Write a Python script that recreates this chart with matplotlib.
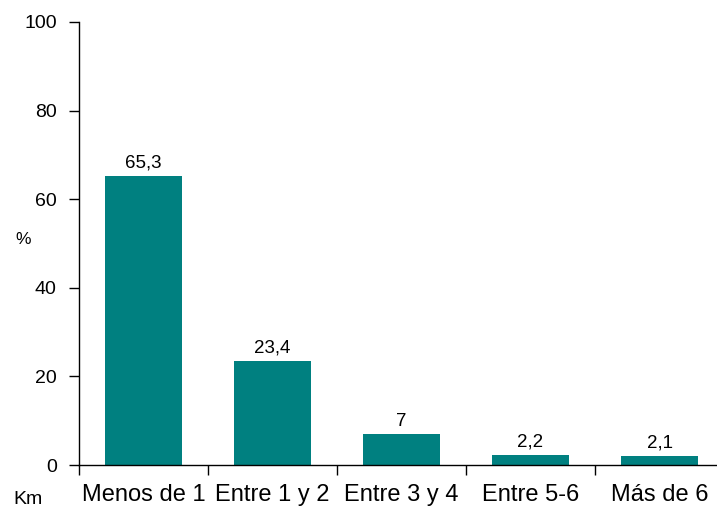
import matplotlib
matplotlib.use("Agg")
import matplotlib.pyplot as plt
import numpy as np

plt.rcParams['font.family'] = ['Liberation Sans', 'DejaVu Sans']

categories = ["Menos de 1", "Entre 1 y 2", "Entre 3 y 4", "Entre 5-6", "Más de 6"]
values = [65.3, 23.4, 7, 2.2, 2.1]
value_labels = ["65,3", "23,4", "7", "2,2", "2,1"]

W, H = 717, 509
fig = plt.figure(figsize=(W / 100, H / 100), dpi=100)
ax = fig.add_axes([79 / W, 44 / H, 645 / W, 443 / H])

x = np.arange(len(categories))
bars = ax.bar(x, values, width=0.59, color="#008080")
for xi, v, lab in zip(x, values, value_labels):
    ax.text(xi, v + 1.0, lab, ha="center", va="bottom", fontsize=13.5)

ax.set_xlim(-0.5, len(categories) - 0.5)
ax.set_ylim(0, 100)
ax.set_yticks([0, 20, 40, 60, 80, 100])
ax.tick_params(axis="y", labelsize=14, length=7, width=1, direction="out", pad=9)

# boundary ticks without labels, category names on invisible minor ticks
ax.set_xticks(np.arange(-0.5, len(categories), 1.0))
ax.set_xticklabels([])
ax.tick_params(axis="x", which="major", length=7, width=1, direction="out")
ax.set_xticks(x, minor=True)
ax.set_xticklabels(categories, minor=True, fontsize=17)
ax.tick_params(axis="x", which="minor", length=0, pad=14)

for side in ("top", "right"):
    ax.spines[side].set_visible(False)
for side in ("left", "bottom"):
    ax.spines[side].set_linewidth(1)

fig.text(23 / W, 1 - 240 / H, "%", ha="center", va="center", fontsize=12.5)
fig.text(28 / W, 1 - 499 / H, "Km", ha="center", va="center", fontsize=14)

fig.savefig("out.png", dpi=100)
